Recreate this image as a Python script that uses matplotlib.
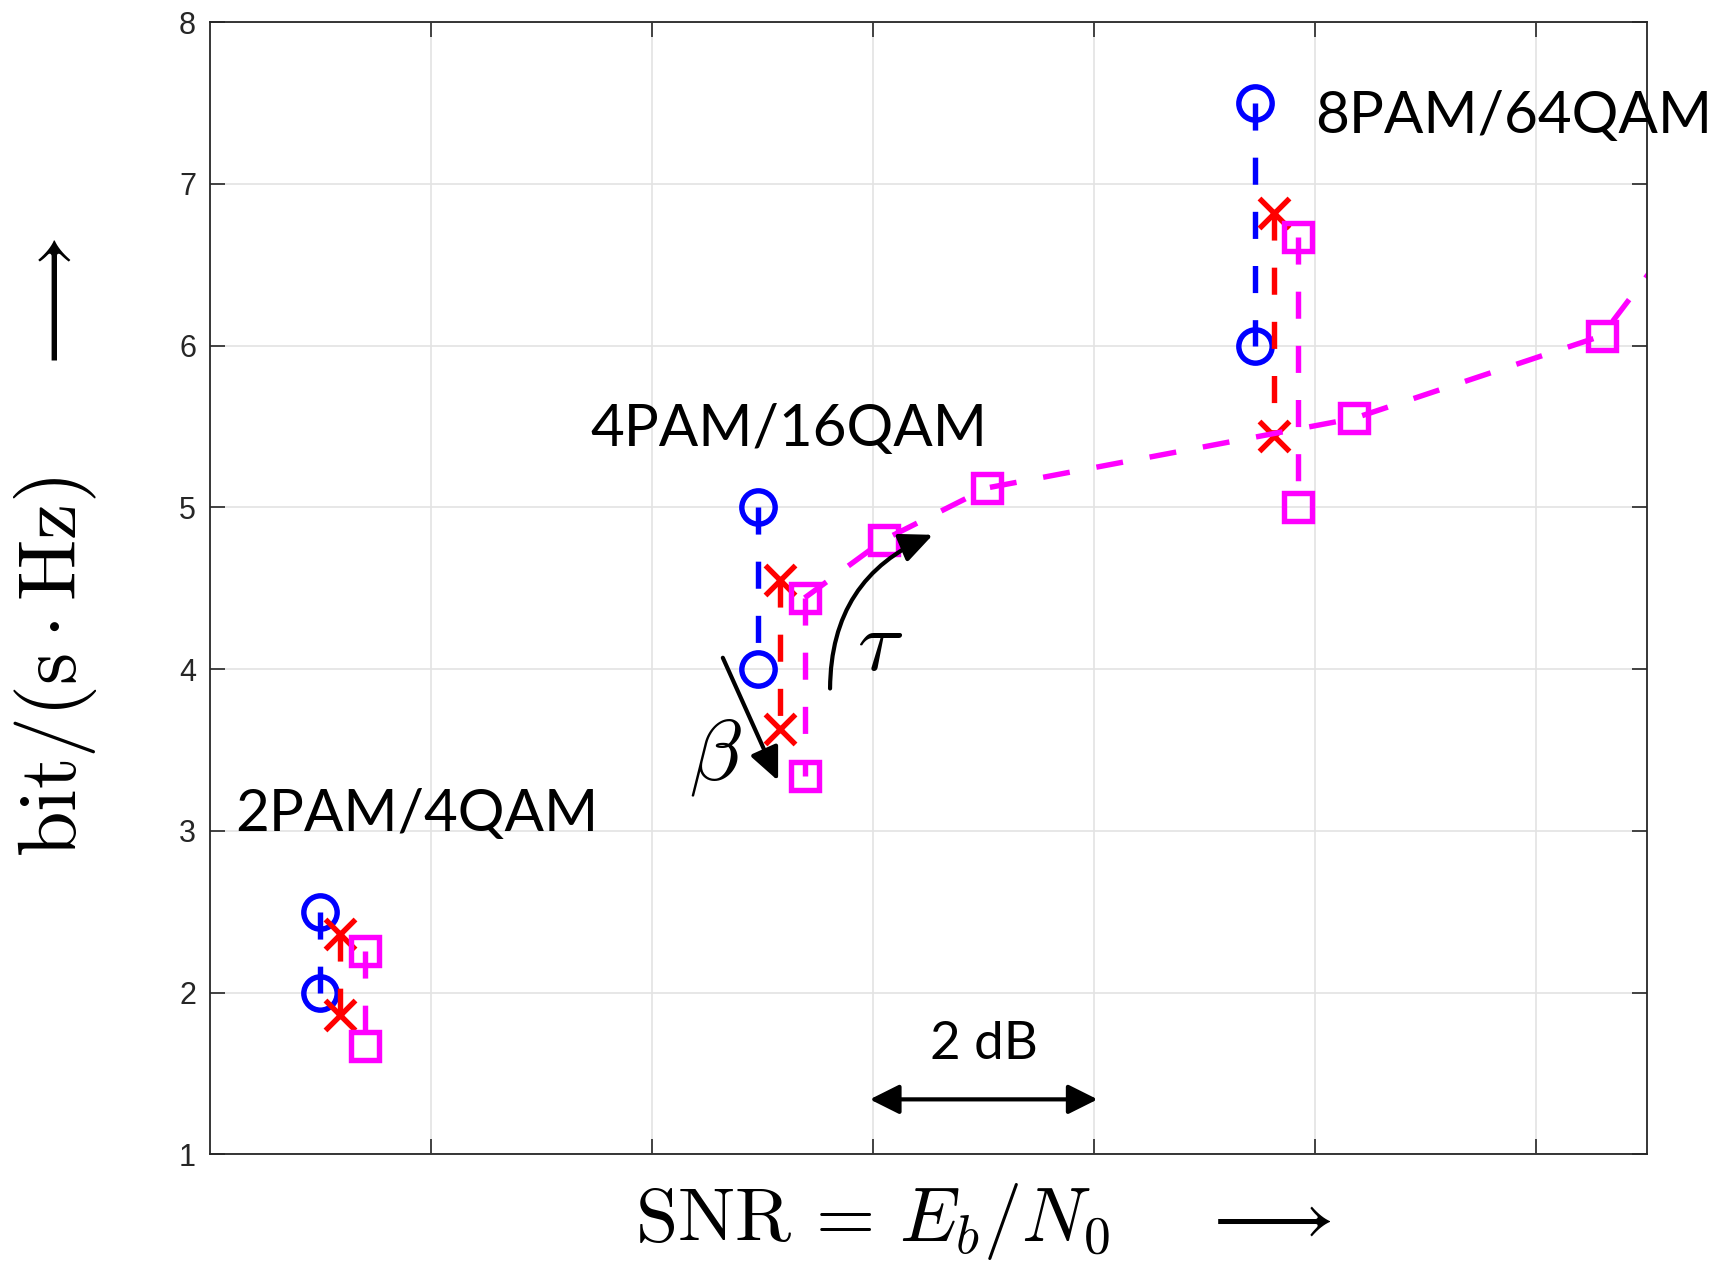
import matplotlib
matplotlib.use("Agg")
import matplotlib.pyplot as plt

plt.rcParams['mathtext.fontset'] = 'cm'

# ---- data (SNR in dB relative to axis origin, spectral efficiency bit/(s Hz)) ----
# blue circles
circ_x = [[1.0, 1.0], [4.96, 4.96], [9.45, 9.45]]
circ_y = [[2.5, 2.0], [5.0, 4.0], [7.5, 6.0]]
# red crosses
cross_x = [[1.18, 1.18], [5.16, 5.16], [9.63, 9.63]]
cross_y = [[2.36, 1.86], [4.55, 3.63], [6.82, 5.44]]
# magenta squares
sq_x = [[1.40, 1.40], [5.38, 5.38], [9.84, 9.84]]
sq_y = [[2.26, 1.67], [4.44, 3.34], [6.67, 5.0]]
# magenta tau-curve
curve_x = [5.38, 6.10, 7.03, 10.35, 12.59, 13.3]
curve_y = [4.44, 4.80, 5.12, 5.55, 6.06, 6.70]

group_labels = ["2PAM/4QAM", "4PAM/16QAM", "8PAM/64QAM"]
group_label_x = [0.23, 3.44, 10.0]
group_label_y = [3.0, 5.38, 7.315]

yticks = [1, 2, 3, 4, 5, 6, 7, 8]
xticks = [2, 4, 6, 8, 10, 12]

fig = plt.figure(figsize=(17.32, 12.67), dpi=100)
ax = fig.add_axes([0.1212, 0.0889, 0.9509 - 0.1212, 0.9826 - 0.0889])

ax.set_xlim(0, 13)
ax.set_ylim(1, 8)
ax.set_xticks(xticks)
ax.set_xticklabels([])
ax.set_yticks(yticks)
ax.set_yticklabels([str(t) for t in yticks], fontsize=22, family='Liberation Sans', color='#262626')
ax.tick_params(direction='in', length=11, width=1.2, top=True, right=True, color='#262626', pad=10)
ax.grid(True, color='#e3e3e3', linewidth=1.2)
ax.set_axisbelow(True)
for s in ax.spines.values():
    s.set_color('#262626')
    s.set_linewidth(1.3)

lw = 3.9
dash = (5.0, 5.0)
mew = 3.9
for xs, ys in zip(circ_x, circ_y):
    ax.plot(xs, ys, color='blue', ls='--', dashes=dash, lw=lw, marker='o',
            markersize=24, markerfacecolor='none', markeredgewidth=mew)
for xs, ys in zip(cross_x, cross_y):
    ax.plot(xs, ys, color='red', ls='--', dashes=dash, lw=lw, marker='x',
            markersize=21, markeredgewidth=mew)
for xs, ys in zip(sq_x, sq_y):
    ax.plot(xs, ys, color='magenta', ls='--', dashes=dash, lw=lw, marker='s',
            markersize=20, markerfacecolor='none', markeredgewidth=mew)
ax.plot(curve_x, curve_y, color='magenta', ls='--', dashes=dash, lw=lw, marker='s',
        markersize=20, markerfacecolor='none', markeredgewidth=mew, markevery=[1, 2, 3, 4])

# group labels
for lab, lx, ly in zip(group_labels, group_label_x, group_label_y):
    ax.text(lx, ly, lab, fontsize=42, family='Lato', ha='left', va='baseline', clip_on=False)

# beta arrow
ax.annotate('', xy=(5.14, 3.31), xytext=(4.64, 4.07),
            arrowprops=dict(arrowstyle='-|>,head_length=1.0,head_width=0.45', color='black',
                            lw=3, shrinkA=0, shrinkB=0, mutation_scale=20))
ax.text(4.57, 3.46, r'$\beta$', fontsize=62, ha='center', va='center')
# tau arrow
ax.annotate('', xy=(6.54, 4.83), xytext=(5.61, 3.88),
            arrowprops=dict(arrowstyle='-|>,head_length=1.0,head_width=0.45', color='black',
                            lw=3, shrinkA=0, shrinkB=0, mutation_scale=20,
                            connectionstyle='arc3,rad=-0.33'))
ax.text(6.06, 4.14, r'$\tau$', fontsize=62, ha='center', va='center')

# 2 dB arrow
ax.annotate('', xy=(8.03, 1.34), xytext=(5.97, 1.34),
            arrowprops=dict(arrowstyle='<|-|>,head_length=0.9,head_width=0.45', color='black',
                            lw=3, shrinkA=0, shrinkB=0, mutation_scale=20))
ax.text(7.0, 1.68, '2 dB', fontsize=38, family='Lato', ha='center', va='center')

# axis labels
fig.text(0.5676, 0.036, r'$\mathrm{SNR}\,=\,E_b/N_0\quad\;\longrightarrow$', fontsize=55,
         ha='center', va='center')
fig.text(0.032, 0.568, r'$\mathrm{bit}/(\mathrm{s}\cdot\mathrm{Hz})\quad\;\longrightarrow$', fontsize=59,
         ha='center', va='center', rotation=90)

fig.savefig('out.png', dpi=100)
